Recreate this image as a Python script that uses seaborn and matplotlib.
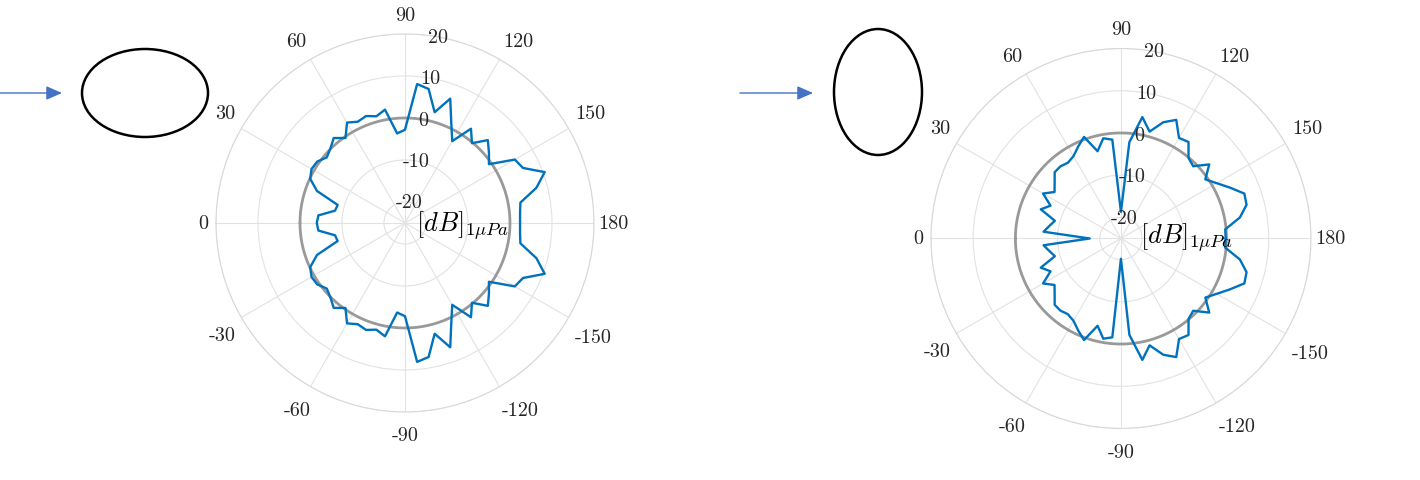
import numpy as np
import pandas as pd
import matplotlib
matplotlib.use("Agg")
import matplotlib.pyplot as plt
import seaborn as sns
from matplotlib.patches import Ellipse

sns.set_theme(style="white")
plt.rcParams["font.family"] = ["cmr10", "DejaVu Serif"]
plt.rcParams["mathtext.fontset"] = "cm"
plt.rcParams["axes.unicode_minus"] = False

# angles in degrees, 0 on the left, clockwise
angles_upper = list(range(0, 181, 5))
angles_lower = list(range(0, -181, -5))

left_upper = [-4.0, -4.3, -8.1, -8.4, -2.7, -0.1, 0.7, 0.5, -0.7, 0.1, 1.4, -0.3,
              2.6, 1.6, 2.1, 1.3, 2.4, -3.6, -2.8, 8.2, 7.4, 2.3, 6.5, 1.1,
              -2.5, 2.4, -0.2, 2.9, 1.1, -0.6, 5.2, 6.0, 10.4, 7.4, 2.9, 2.5, 2.4]
left_lower = [-4.0, -4.3, -8.1, -8.4, -2.7, -0.1, 0.7, 0.5, -0.7, 0.1, 1.4, -0.3,
              2.6, 1.6, 2.1, 1.3, 2.4, -3.6, -2.8, 8.2, 7.4, 2.3, 6.5, 1.1,
              -2.5, 2.4, -0.2, 2.9, 1.1, -0.6, 5.2, 6.0, 10.4, 7.4, 2.9, 2.5, 2.4]

right_upper = [-17.6, -6.6, -7.8, -8.8, -4.8, -6.6, -3.7, -5.8, -4.5, -2.8, -2.7, -3.1,
               -2.5, -1.0, 0.6, -3.6, -0.9, -1.5, -18.7, -2.1, 4.2, 1.2, 4.3, 6.0,
               2.5, 2.9, -0.1, -0.8, 2.3, -0.6, 1.2, 3.5, 6.1, 5.8, 3.6, -0.2, -0.2]
right_lower = [-17.6, -6.6, -7.8, -8.8, -4.8, -6.6, -3.7, -5.8, -4.5, -2.8, -2.7, -3.1,
               -2.5, -1.0, 0.6, -3.6, -0.9, -1.5, -20.2, -2.1, 4.2, 1.2, 4.3, 6.0,
               2.5, 2.9, -0.1, -0.8, 2.3, -0.6, 1.2, 3.5, 6.1, 5.8, 3.6, -0.2, -0.2]

theta_ticks = [0, 30, 60, 90, 120, 150, 180, 210, 240, 270, 300, 330]
theta_labels = ["0", "30", "60", "90", "120", "150", "180",
                "-150", "-120", "-90", "-60", "-30"]
r_ticks = [-20, -10, 0, 10, 20]
r_labels = ["-20", "-10", "0", "10", "20"]
r_min, r_max = -25, 20
ref_level = 0
r_label_angle = 100

LINE_BLUE = "#0072BD"
TXT = "#262626"
FS = 14.5

# label offsets from the outer ring, in pixels (x right, y up)
label_offsets = {
    0: (-8, 0), 30: (-6, 6), 60: (-4, 9), 90: (0, 10), 120: (3.5, 9),
    150: (7, 6), 180: (4, 0), 210: (6, -11), 240: (2.5, -14),
    270: (0, -14.5), 300: (0, -14), 330: (-6, -9),
}


def _pattern_frame(upper, lower):
    ang = angles_lower[::-1] + angles_upper[1:]
    lev = lower[::-1] + upper[1:]
    return pd.DataFrame({"theta": np.deg2rad(ang), "level": lev})


def _theta_labels(ax):
    for deg, lab in zip(theta_ticks, theta_labels):
        # screen direction: 0 deg points left, clockwise
        phi = np.deg2rad(180 - deg)
        ux, uy = np.cos(phi), np.sin(phi)
        ha = "right" if ux < -0.1 else ("left" if ux > 0.1 else "center")
        va = "bottom" if uy > 0.1 else ("top" if uy < -0.1 else "center")
        ox, oy = label_offsets[deg]
        ax.annotate(lab, xy=(np.deg2rad(deg), r_max), xycoords="data",
                    xytext=(ox * 0.72, oy * 0.72), textcoords="offset points",
                    ha=ha, va=va, fontsize=FS, color=TXT, annotation_clip=False)


def _polar_panel(fig, rect, upper, lower, unit_xy):
    ax = fig.add_axes(rect, projection="polar")
    ax.set_theta_zero_location("W")
    ax.set_theta_direction(-1)
    ax.set_ylim(r_min, r_max)

    circle = np.linspace(0, 2 * np.pi, 400)
    ax.plot(circle, np.full_like(circle, ref_level), color="#999999", lw=2.0, zorder=2)

    df = _pattern_frame(upper, lower)
    sns.lineplot(data=df, x="theta", y="level", ax=ax, sort=False, estimator=None,
                 color=LINE_BLUE, linewidth=1.7, zorder=3)
    ax.set_xlabel("")
    ax.set_ylabel("")

    ax.set_thetagrids(theta_ticks, labels=[""] * len(theta_ticks))
    ax.set_rticks(r_ticks)
    ax.set_yticklabels([])
    ax.grid(True, color="#e2e2e2", linewidth=0.8)
    ax.spines["polar"].set_color("#d8d8d8")
    ax.spines["polar"].set_linewidth(0.8)

    _theta_labels(ax)
    for rv, lab in zip(r_ticks, r_labels):
        ax.text(np.deg2rad(r_label_angle), rv, lab, ha="center", va="center",
                fontsize=FS, color=TXT, zorder=4)

    ax.text(unit_xy[0], unit_xy[1], r"$[dB]_{1\mu Pa}$", transform=ax.transAxes,
            fontsize=19, color="black", ha="left", va="center", zorder=5)
    return ax


fig = plt.figure(figsize=(14.2, 4.81), dpi=100)

_polar_panel(fig, [0.1521, 0.1414, 0.2662, 0.7859], left_upper, left_lower, (0.529, 0.496))
_polar_panel(fig, [0.6556, 0.1071, 0.2676, 0.7900], right_upper, right_lower, (0.550, 0.505))

# overlay in pixel units for the shape sketches
over = fig.add_axes([0, 0, 1, 1])
over.set_xlim(0, 1420)
over.set_ylim(481, 0)
over.axis("off")
over.patch.set_alpha(0)
over.add_patch(Ellipse((145, 94), 126, 88, fill=False, ec="black", lw=1.8))
over.add_patch(Ellipse((878, 93), 88, 126, fill=False, ec="black", lw=1.8))
for x0, x1 in [(0, 62), (740, 813)]:
    over.annotate("", xy=(x1, 94), xytext=(x0, 94),
                  arrowprops=dict(arrowstyle="-|>,head_length=0.8,head_width=0.35",
                                  color="#4472C4", lw=1.0, shrinkA=0, shrinkB=0))

fig.savefig("out.png", dpi=100)
